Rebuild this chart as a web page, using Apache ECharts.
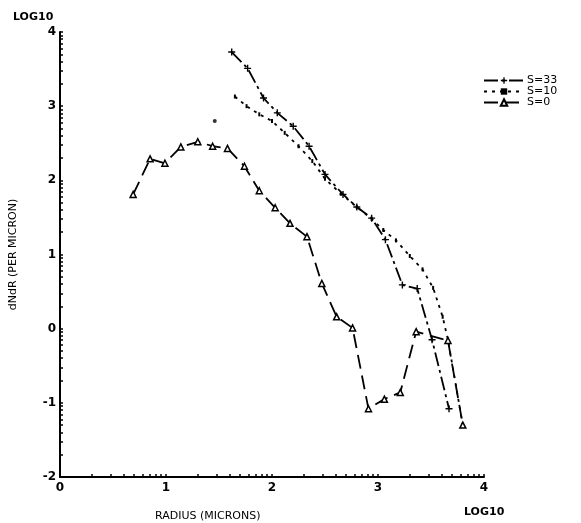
<!DOCTYPE html>
<html><head><meta charset="utf-8">
<script src="https://cdn.jsdelivr.net/npm/echarts@6/dist/echarts.min.js"></script>
<style>html,body{margin:0;padding:0;background:#fff}#c{width:581px;height:523px}</style>
</head><body><div id="c"></div>
<script>
// ---- data (log10 radius, log10 dN/dR) ----
const s33 = [[1.62,3.73],[1.77,3.51],[1.92,3.11],[2.05,2.91],[2.20,2.73],[2.35,2.46],[2.50,2.08],[2.67,1.81],[2.80,1.64],[2.94,1.49],[3.07,1.20],[3.23,0.59],[3.37,0.54],[3.51,-0.15],[3.67,-1.08]];
const s10 = [[1.65,3.13],[1.76,3.00],[1.88,2.89],[2.00,2.80],[2.12,2.64],[2.25,2.46],[2.38,2.26],[2.50,2.02],[2.65,1.82],[2.80,1.64],[2.94,1.48],[3.05,1.33],[3.17,1.19],[3.30,0.98],[3.42,0.80],[3.52,0.55],[3.61,0.16],[3.66,-0.15],[3.80,-1.30]];
const s0 = [[0.69,1.81],[0.85,2.29],[0.99,2.23],[1.14,2.45],[1.30,2.52],[1.44,2.46],[1.58,2.43],[1.74,2.19],[1.88,1.86],[2.03,1.63],[2.17,1.42],[2.33,1.24],[2.47,0.61],[2.61,0.16],[2.76,0.01],[2.91,-1.08],[3.06,-0.95],[3.21,-0.86],[3.36,-0.04],[3.66,-0.16],[3.80,-1.30]];
const strayPoint = [[1.46,2.80]];
const seriesNames = ['S=33','S=10','S=0'];
const xLabels = ['0','1','2','3','4'];
const yLabels = ['-2','-1','0','1','2','3','4'];

// log-style minor tick positions (decade subdivisions)
function logTicks(from, to){
  const t=[];
  for(let d=from; d<to; d++){ for(let k=1;k<=9;k++){ t.push(d+Math.log10(k)); } }
  t.push(to); return t;
}
const font = 'DejaVu Sans';
const plus = 'path://M4,0h2v4h4v2h-4v4h-2v-4h-4v-2h4z';
const chart = echarts.init(document.getElementById('c'));
chart.setOption({
  animation:false,
  backgroundColor:'#fff',
  textStyle:{fontFamily:font,color:'#000'},
  grid:{left:57,right:97,top:32,bottom:46},
  title:[
    {text:'LOG10',left:8,top:7,textStyle:{fontSize:11,fontWeight:'bold',fontFamily:font,color:'#000'}},
    {text:'LOG10',left:459,top:502,textStyle:{fontSize:11,fontWeight:'bold',fontFamily:font,color:'#000'}},
    {text:'RADIUS (MICRONS)',left:150,top:506,textStyle:{fontSize:11,fontWeight:'normal',fontFamily:font,color:'#000'}}
  ],
  legend:{
    orient:'vertical',left:478,top:70,itemGap:0,itemWidth:40,itemHeight:8,
    data:seriesNames,
    textStyle:{fontSize:11,fontFamily:font,color:'#000',padding:[0,0,0,-2]}
  },
  xAxis:{
    type:'value',min:0,max:4,interval:1,
    axisLine:{onZero:false,lineStyle:{color:'#000',width:2}},
    axisTick:{inside:true,length:3,customValues:logTicks(0,4),lineStyle:{color:'#000',width:1.5}},
    axisLabel:{customValues:[0,1,2,3,4],formatter:v=>xLabels[Math.round(v)],fontSize:12,fontWeight:'bold',color:'#000',margin:5},
    splitLine:{show:false}
  },
  yAxis:{
    type:'value',min:-2,max:4,interval:1,
    name:'dNdR (PER MICRON)',nameLocation:'middle',nameRotate:90,nameGap:41,
    nameTextStyle:{fontSize:11,fontFamily:font,color:'#000'},
    axisLine:{onZero:false,lineStyle:{color:'#000',width:2}},
    axisTick:{inside:true,length:3,customValues:logTicks(-2,4),lineStyle:{color:'#000',width:1.5}},
    axisLabel:{customValues:[-2,-1,0,1,2,3,4],formatter:v=>yLabels[Math.round(v)+2],fontSize:12,fontWeight:'bold',color:'#000',margin:4},
    splitLine:{show:false}
  },
  series:[
    {name:'S=33',type:'line',data:s33,symbol:plus,symbolSize:7,showAllSymbol:true,
     itemStyle:{color:'#000'},lineStyle:{color:'#000',width:1.8,type:[14,4,3,4]}},
    {name:'S=10',type:'line',data:s10,symbol:'rect',symbolSize:[2,4],showAllSymbol:true,
     itemStyle:{color:'#000'},lineStyle:{color:'#000',width:1.8,type:[3,5]}},
    {name:'S=0',type:'line',data:s0,symbol:'triangle',symbolSize:6,showAllSymbol:true,
     itemStyle:{color:'#fff',borderColor:'#000',borderWidth:1.5},lineStyle:{color:'#000',width:1.8,type:[14,7]}},
    {name:'stray',type:'scatter',data:strayPoint,symbol:'circle',symbolSize:4,itemStyle:{color:'#000'}}
  ]
});
</script></body></html>
